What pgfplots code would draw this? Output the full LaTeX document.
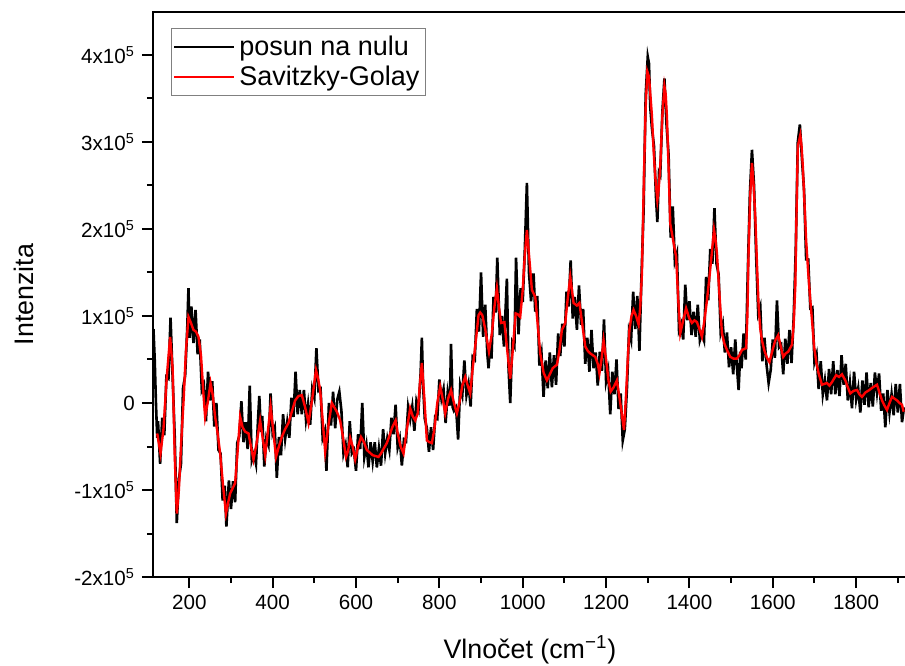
\documentclass[border=0pt]{standalone}
\usepackage{fontspec}
\setmainfont{Liberation Sans}
\usepackage{pgfplots}
\pgfplotsset{compat=1.18}
\usepackage{pgfplotstable}

% y in units of 1000
\pgfplotstableread{
x y
114 85
117 50
120 0
123 -40
125 -21
130 -70
135 -17
140 -37
145 30
150 28
155 98
160 30
165 -38
170 -138
175 -88
180 -70
185 17
190 31
195 85
198 132
201 75
205 111
210 69
215 107
220 56
225 73
230 15
235 21
240 -21
245 36
250 3
255 25
260 -27
265 0
270 -54
275 -58
280 -112
285 -95
289 -142
295 -89
300 -122
305 -90
310 -114
315 -46
320 -38
325 2
330 -45
335 -22
340 -53
345 20
350 -66
355 -58
360 -70
365 -18
368 8
372 -33
375 -15
380 -73
385 -40
390 -48
395 11
400 -35
405 -28
410 -86
415 -39
420 -60
425 -13
430 -41
435 -22
440 -40
445 6
450 -16
455 36
460 -13
465 15
470 -13
475 15
480 -19
485 -1
490 -25
495 16
500 6
505 63
510 14
515 16
520 -40
525 -32
529 -78
535 0
540 -26
545 13
550 -29
555 4
560 13
565 -9
570 -58
575 -48
580 -74
585 -21
590 -58
595 -54
600 -78
605 -36
610 -53
615 0
620 -62
625 -48
630 -74
635 -45
640 -67
645 -45
650 -74
655 -52
660 -72
665 -30
670 -58
675 -41
680 -54
685 -17
690 -36
695 -2
700 -51
705 -41
710 -72
715 -42
720 -44
725 -5
730 -19
735 -4
740 -32
745 2
750 -7
755 34
758 75
761 20
765 -18
770 -29
775 -56
780 -28
785 -54
790 -16
795 -18
800 27
805 5
810 16
815 -23
820 12
825 -3
828 68
832 -5
835 -9
840 -5
845 -42
850 20
855 9
860 49
865 9
870 22
875 -4
880 53
885 50
890 108
895 82
900 150
905 76
910 113
915 57
918 40
922 68
925 51
930 122
935 104
939 167
945 78
950 100
955 65
962 143
966 40
970 0
975 70
980 65
984 167
990 79
995 132
1000 116
1005 176
1010 253
1015 150
1020 117
1026 149
1030 105
1035 123
1040 43
1045 57
1050 7
1055 49
1060 17
1065 58
1070 18
1075 55
1080 21
1085 80
1090 54
1095 91
1100 65
1105 128
1110 111
1115 164
1120 97
1125 122
1130 84
1135 135
1140 90
1145 108
1150 45
1155 75
1160 36
1165 84
1170 40
1175 58
1180 20
1185 59
1190 37
1195 96
1200 25
1205 37
1210 -13
1215 36
1220 10
1225 50
1230 -7
1235 11
1240 -43
1245 -30
1250 16
1255 82
1260 72
1265 128
1270 85
1275 123
1280 60
1285 147
1290 221
1295 354
1300 398
1303 390
1306 340
1310 316
1315 295
1320 234
1323 208
1327 265
1330 262
1335 334
1340 373
1345 320
1350 285
1355 190
1360 226
1365 163
1370 172
1375 84
1380 91
1385 73
1390 136
1395 95
1400 117
1405 78
1410 105
1415 76
1420 113
1425 72
1430 80
1435 72
1440 145
1445 118
1450 177
1455 160
1460 224
1465 160
1470 148
1475 81
1480 91
1485 58
1490 81
1495 41
1500 64
1505 33
1510 73
1514 41
1518 15
1522 59
1525 40
1530 80
1535 50
1540 150
1545 240
1550 291
1555 250
1560 170
1565 103
1570 111
1575 48
1580 75
1585 44
1590 23
1595 38
1600 73
1605 52
1610 118
1615 64
1620 67
1625 33
1630 74
1635 45
1640 84
1645 46
1650 97
1655 175
1660 300
1665 320
1670 280
1675 245
1680 165
1685 165
1690 109
1695 110
1700 47
1705 56
1710 16
1715 48
1720 10
1725 26
1730 3
1735 39
1740 10
1745 48
1750 10
1755 38
1760 8
1765 55
1770 21
1775 45
1780 3
1785 23
1790 -6
1795 36
1800 4
1805 17
1810 -11
1815 26
1820 -2
1825 35
1830 -5
1835 23
1840 -4
1845 35
1850 12
1855 34
1860 -9
1865 11
1870 -28
1875 15
1880 -11
1885 10
1890 -14
1895 22
1900 -11
1905 22
1910 -22
1915 -5
}\blackdata

\pgfplotstableread{
x y
123 -35
131 -58
138 -30
146 30
154 76
160 40
165 -60
170 -127
175 -100
180 -50
186 0
192 60
198 99
204 92
210 84
216 82
222 76
228 55
234 10
238 -16
244 0
251 23
256 10
262 -16
268 -35
274 -58
281 -95
288 -127
293 -115
298 -104
304 -98
310 -92
316 -55
322 -16
328 -28
334 -33
342 -35
348 -50
354 -65
362 -45
370 -20
376 -40
382 -60
388 -35
395 -4
401 -30
408 -62
415 -50
422 -39
430 -30
438 -23
446 -10
454 3
462 8
470 9
478 -5
486 -23
495 5
504 38
509 28
514 15
520 -20
526 -56
534 -25
542 0
548 -5
554 -10
562 -20
569 -40
576 -62
581 -55
586 -40
592 -50
598 -65
605 -50
612 -39
619 -45
626 -54
633 -57
640 -60
647 -61
654 -62
660 -58
667 -52
674 -46
680 -38
687 -28
695 -20
700 -35
707 -50
714 -58
722 -30
730 -6
736 -15
742 -20
748 -12
753 20
758 46
764 5
770 -43
776 -45
782 -46
788 -30
795 0
802 19
808 5
814 -12
821 5
828 15
835 0
842 -12
848 0
855 20
862 30
868 20
874 11
880 40
886 65
894 101
898 104
903 101
910 85
919 59
926 80
932 110
938 132
943 110
948 92
956 93
963 60
970 28
976 60
983 103
988 102
994 99
1000 130
1005 170
1010 199
1016 165
1022 130
1030 122
1036 90
1042 57
1050 35
1058 26
1065 33
1072 40
1082 44
1088 60
1094 84
1102 92
1108 120
1114 145
1118 130
1122 115
1130 112
1136 115
1143 90
1150 65
1156 60
1162 57
1168 55
1174 53
1180 45
1184 34
1189 50
1194 72
1200 50
1206 25
1211 13
1218 18
1226 26
1234 0
1243 -31
1248 10
1252 50
1256 84
1261 100
1266 107
1272 100
1278 90
1282 110
1286 149
1291 264
1295 340
1299 381
1303 375
1306 356
1310 330
1314 291
1318 260
1323 233
1326 245
1330 272
1335 330
1340 364
1343 355
1346 329
1350 270
1354 206
1358 195
1362 184
1368 168
1373 120
1378 80
1385 95
1392 109
1399 98
1406 92
1412 95
1418 93
1424 85
1430 76
1436 95
1442 118
1447 140
1452 164
1459 199
1462 190
1466 172
1472 125
1478 80
1484 68
1490 61
1498 53
1506 51
1514 51
1520 55
1526 61
1536 63
1539 100
1542 176
1546 240
1550 276
1554 250
1558 214
1562 160
1566 111
1570 85
1574 72
1580 60
1586 52
1592 47
1599 60
1606 72
1613 78
1619 65
1625 53
1631 57
1637 59
1646 67
1650 90
1654 134
1657 220
1660 295
1666 308
1669 295
1672 272
1676 230
1680 187
1685 150
1690 118
1695 90
1699 65
1705 45
1710 34
1718 21
1724 22
1730 23
1736 20
1742 24
1752 32
1759 30
1766 33
1774 26
1780 18
1786 11
1794 14
1802 15
1808 10
1814 7
1822 12
1832 15
1840 18
1850 21
1856 12
1862 3
1868 -3
1874 -8
1880 0
1886 7
1892 5
1898 3
1904 0
1910 -2
1914 -10
}\reddata

\begin{document}
\begin{tikzpicture}
\begin{axis}[
  name=ax,
  scale only axis,
  width=377pt, height=282.5pt,
  xmin=112.9, xmax=1922,
  ymin=-200, ymax=449.4,
  axis line style={line width=1pt},
  tick style={line width=1pt, black},
  tick align=outside,
  major tick length=5.5pt,
  minor tick length=3pt,
  xtick pos=bottom, ytick pos=left,
  xtick={200,400,...,1800},
  xticklabels={200,400,600,800,1000,1200,1400,1600,1800},
  minor xtick={100,300,...,1900},
  ytick={-200,-100,0,100,200,300,400},
  yticklabels={-2x10\textsuperscript{5},-1x10\textsuperscript{5},0,1x10\textsuperscript{5},2x10\textsuperscript{5},3x10\textsuperscript{5},4x10\textsuperscript{5}},
  minor ytick={-150,-50,50,150,250,350},
  ticklabel style={font=\fontsize{10.3}{12}\selectfont},
  label style={font=\fontsize{13.4}{15}\selectfont},
  xlabel={Vlnočet (cm\textsuperscript{−1})},
  ylabel={Intenzita},
  xlabel style={yshift=-6pt},
  ylabel style={yshift=13.5pt},
  legend cell align=left,
  legend style={
    at={(0.0235,0.9717)}, anchor=north west,
    draw=gray, line width=0.6pt,
    font=\fontsize{13.5}{16}\selectfont,
    inner xsep=1pt, inner ysep=1.5pt,
    row sep=0pt,
  },
  legend image code/.code={\draw[#1, line width=1pt] (0pt,0pt) -- (30pt,0pt);},
]
\addplot[black, line width=1.3pt] table[x=x,y=y] {\blackdata};
\addlegendentry{posun na nulu}
\addplot[red, line width=1.2pt] table[x=x,y=y] {\reddata};
\addlegendentry{Savitzky-Golay}
\end{axis}
\pgfresetboundingbox
\path ([xshift=-76.5pt,yshift=-44pt]ax.south west) rectangle ([xshift=-1pt,yshift=6pt]ax.north east);
\end{tikzpicture}
\end{document}
